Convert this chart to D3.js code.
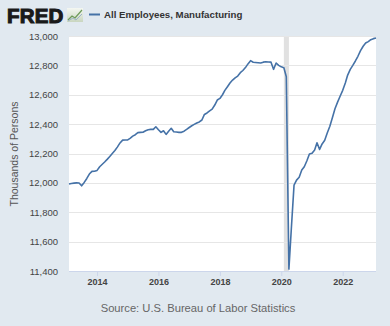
<!DOCTYPE html>
<html><head><meta charset="utf-8">
<script src="https://cdn.jsdelivr.net/npm/d3@7"></script>
<style>
html,body{margin:0;padding:0;background:#e1e9f0;}
svg{display:block;font-family:"Liberation Sans",Arial,sans-serif;}
</style></head>
<body>
<svg id="c" width="390" height="326"></svg>
<script>
const title = "All Employees, Manufacturing";
const yAxisTitle = "Thousands of Persons";
const sourceText = "Source: U.S. Bureau of Labor Statistics";
const startMonth = "2013-02";
// monthly values, thousands of persons, Feb 2013 .. Feb 2023
const values = [
  11992, 11996, 11998, 12000, 11999, 11980, 12003, 12030, 12060, 12078, 12079,
  12085, 12110, 12125, 12142, 12160, 12180, 12200, 12220, 12245, 12272, 12291, 12292,
  12293, 12305, 12318, 12328, 12342, 12344, 12345, 12355, 12362, 12364, 12364, 12382,
  12362, 12344, 12355, 12330, 12352, 12372, 12348, 12346, 12344, 12344, 12352, 12364,
  12377, 12389, 12398, 12408, 12415, 12428, 12466, 12476, 12490, 12502, 12530, 12564,
  12575, 12600, 12630, 12655, 12680, 12700, 12715, 12727, 12750, 12765, 12785, 12810,
  12832, 12821, 12820, 12818, 12816, 12822, 12825, 12823, 12822, 12773, 12816, 12800,
  12790, 12784, 12723, 11413, 11700, 11985, 12019, 12038, 12087, 12110, 12151, 12196,
  12201, 12224, 12273, 12228, 12265, 12290, 12340, 12385, 12445, 12505, 12550, 12590,
  12630, 12680, 12734, 12773, 12800, 12830, 12862, 12900, 12930, 12952, 12962, 12975,
  12982, 12987
];
const yTicks = [11400, 11600, 11800, 12000, 12200, 12400, 12600, 12800, 13000];
const xTickYears = [2014, 2016, 2018, 2020, 2022];
const recession = ["2020-02-01", "2020-04-01"];

const parse = d3.timeParse("%Y-%m");
const t0 = parse(startMonth);
const data = values.map((v, i) => ({date: d3.timeMonth.offset(t0, i), value: v}));

const svg = d3.select("#c");
const L = 69, R = 376, T = 36, B = 271;

const x = d3.scaleTime().domain(d3.extent(data, d => d.date)).range([L, R]);
const y = d3.scaleLinear().domain([11400, 13000]).range([B, T]);

// plot background
svg.append("rect").attr("x", L).attr("y", T).attr("width", R - L).attr("height", B - T).attr("fill", "#fff");

// recession shading
const pd = d3.timeParse("%Y-%m-%d");
svg.append("rect")
  .attr("x", x(pd(recession[0]))).attr("y", T)
  .attr("width", x(pd(recession[1])) - x(pd(recession[0]))).attr("height", B - T)
  .attr("fill", "#e1e1e1");

// gridlines
svg.append("g").selectAll("line").data(yTicks.slice(1)).join("line")
  .attr("x1", L).attr("x2", R)
  .attr("y1", d => Math.round(y(d)) + 0.5).attr("y2", d => Math.round(y(d)) + 0.5)
  .attr("stroke", "#e6e6e6").attr("stroke-width", 1);

// y axis labels
const yAxis = d3.axisLeft(y).tickValues(yTicks).tickSize(0).tickPadding(11).tickFormat(d3.format(","));
const gy = svg.append("g").attr("transform", `translate(${L},0)`).call(yAxis);
gy.select(".domain").remove();
gy.selectAll("text").attr("fill", "#444").attr("font-size", "9.5px").attr("font-family", "Liberation Sans, Arial, sans-serif");

// x axis
const xAxis = d3.axisBottom(x).tickValues(xTickYears.map(yy => new Date(yy, 0, 1)))
  .tickSize(5).tickPadding(3).tickFormat(d3.timeFormat("%Y"));
const gx = svg.append("g").attr("transform", `translate(0,${B})`).call(xAxis);
gx.select(".domain").attr("stroke", "#ccd6eb").attr("d", `M${L},0.5H${R}`);
gx.selectAll(".tick line").attr("stroke", "#ccd6eb");
gx.selectAll("text").attr("fill", "#444").attr("font-size", "9px").attr("font-weight", "bold")
  .attr("font-family", "Liberation Sans, Arial, sans-serif");

// line
svg.append("path").datum(data)
  .attr("fill", "none").attr("stroke", "#4572a7").attr("stroke-width", 1.6)
  .attr("stroke-linejoin", "round")
  .attr("d", d3.line().x(d => x(d.date)).y(d => y(d.value)));

// y axis title
svg.append("text").attr("transform", "translate(18,154) rotate(-90)")
  .attr("text-anchor", "middle").attr("font-size", "10.5px").attr("fill", "#555").text(yAxisTitle);

// source
svg.append("text").attr("x", 198).attr("y", 312).attr("text-anchor", "middle")
  .attr("font-size", "11.2px").attr("fill", "#666").text(sourceText);

// header: FRED logo
svg.append("text").attr("x", 7).attr("y", 23).attr("font-size", "20.5px").attr("font-weight", "900")
  .attr("font-family", "Liberation Sans, Arial, sans-serif").attr("fill", "#1a1a1a")
  .attr("stroke", "#1a1a1a").attr("stroke-width", 1.1).attr("letter-spacing", "0.2")
  .text("FRED");
// small chart icon
const ic = svg.append("g").attr("transform", "translate(67,8)");
const grad = svg.append("defs").append("linearGradient").attr("id", "ig").attr("x1", 0).attr("y1", 0).attr("x2", 0).attr("y2", 1);
grad.append("stop").attr("offset", 0).attr("stop-color", "#f4f7f2");
grad.append("stop").attr("offset", 1).attr("stop-color", "#c9d6bf");
ic.append("rect").attr("width", 16).attr("height", 14).attr("fill", "url(#ig)");
ic.append("path").attr("d", "M1,12 L5,8 L8,10 L15,2").attr("fill", "none").attr("stroke", "#6d9a5a").attr("stroke-width", 1.2);
ic.append("path").attr("d", "M1,13 L6,10 L9,12 L15,6").attr("fill", "none").attr("stroke", "#9cb3c9").attr("stroke-width", 1);

// legend
svg.append("line").attr("x1", 89).attr("x2", 100).attr("y1", 14.5).attr("y2", 14.5)
  .attr("stroke", "#4572a7").attr("stroke-width", 2);
svg.append("text").attr("x", 104).attr("y", 18).attr("font-size", "9.7px").attr("font-weight", "bold")
  .attr("fill", "#333").text(title);
</script>
</body></html>
